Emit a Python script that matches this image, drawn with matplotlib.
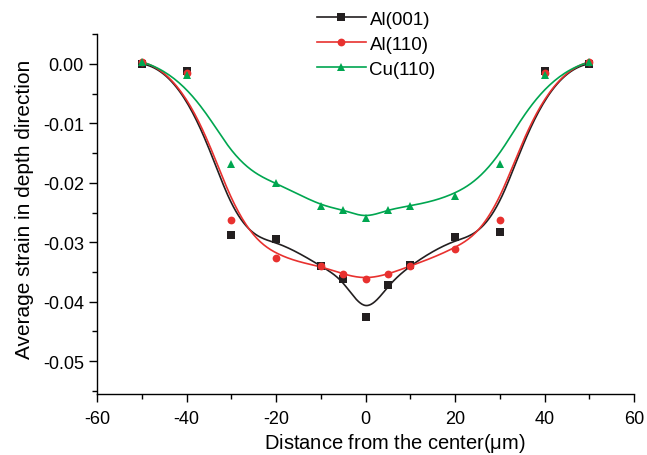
import numpy as np
import matplotlib
matplotlib.use("Agg")
import matplotlib.pyplot as plt
from matplotlib.ticker import MultipleLocator, FuncFormatter

plt.rcParams['font.family'] = ['Liberation Sans', 'DejaVu Sans']
plt.rcParams['mathtext.fontset'] = 'custom'
plt.rcParams['mathtext.rm'] = 'Liberation Sans'
plt.rcParams['axes.unicode_minus'] = False

# distance from the center (um)
x = [-50, -40, -30, -20, -10, -5, 0, 5, 10, 20, 30, 40, 50]
al001 = [0.0, -0.0012, -0.0288, -0.0295, -0.0340, -0.0362, -0.0426,
         -0.0372, -0.0338, -0.0292, -0.0283, -0.0012, 0.0]
al110 = [0.0003, -0.0015, -0.0262, -0.0326, -0.0340, -0.0354, -0.0362,
         -0.0354, -0.0340, -0.0312, -0.0262, -0.0015, 0.0003]
cu110 = [0.0003, -0.0018, -0.0169, -0.0200, -0.0239, -0.0245, -0.0260,
         -0.0245, -0.0239, -0.0223, -0.0169, -0.0018, 0.0003]


def bspline(px, py, n=400):
    # clamped cubic B-spline with the points as control points (Origin style)
    p = np.column_stack([px, py]).astype(float)
    m = len(p)
    k = 3
    inner = np.arange(1, m - k)
    knots = np.concatenate([[0] * (k + 1), inner, [m - k] * (k + 1)]).astype(float)
    t = np.linspace(0, m - k, n)
    t[-1] -= 1e-9
    # Cox-de Boor
    B = np.zeros((n, len(knots) - 1))
    for i in range(len(knots) - 1):
        B[:, i] = (t >= knots[i]) & (t < knots[i + 1])
    for d in range(1, k + 1):
        Bn = np.zeros((n, len(knots) - 1 - d))
        for i in range(len(knots) - 1 - d):
            a = knots[i + d] - knots[i]
            b = knots[i + d + 1] - knots[i + 1]
            term = 0
            if a > 0:
                term = term + (t - knots[i]) / a * B[:, i]
            if b > 0:
                term = term + (knots[i + d + 1] - t) / b * B[:, i + 1]
            Bn[:, i] = term
        B = Bn
    c = B @ p
    return c[:, 0], c[:, 1]


fig = plt.figure(figsize=(6.47, 4.56), dpi=100)
ax = fig.add_axes([0.150, 0.134, 0.830, 0.789])

series = [
    ('Al(001)', al001, '#231f20', 's', 5.3),
    ('Al(110)', al110, '#e8312f', 'o', 5.6),
    ('Cu(110)', cu110, '#00a650', '^', 6.2),
]

handles = []
for label, y, color, marker, ms in series:
    cx, cy = bspline(x, y)
    ax.plot(cx, cy, color=color, lw=1.2, zorder=2)
    ax.plot(x, y, linestyle='none', marker=marker, color=color, ms=ms,
            markeredgewidth=0, zorder=3)
    h, = ax.plot([], [], color=color, lw=1.2, marker=marker, ms=ms,
                 markeredgewidth=0, label=label)
    handles.append(h)

ax.set_xlim(-60, 60)
ax.set_ylim(-0.0555, 0.005)
ax.xaxis.set_major_locator(MultipleLocator(20))
ax.xaxis.set_minor_locator(MultipleLocator(10))
ax.yaxis.set_major_locator(MultipleLocator(0.01))
ax.yaxis.set_minor_locator(MultipleLocator(0.005))
ax.yaxis.set_major_formatter(FuncFormatter(
    lambda v, pos: '%.2f' % (0.0 if abs(v) < 1e-9 else v)))
ax.tick_params(which='major', direction='out', length=6, width=1,
               labelsize=13, pad=3.5)
ax.tick_params(axis='x', which='major', pad=5.5)
ax.tick_params(which='minor', direction='out', length=3.5, width=1)
for s in ['top', 'right']:
    ax.spines[s].set_visible(False)
for s in ['left', 'bottom']:
    ax.spines[s].set_linewidth(1)

ax.set_xlabel(r'Distance from the center($\mathrm{\mu}$m)', fontsize=14.5)
ax.set_ylabel('Average strain in depth direction', fontsize=15)
ax.xaxis.set_label_coords(0.555, -0.104)
ax.yaxis.set_label_coords(-0.118, 0.517)

fig.legend(handles=handles, loc='upper left', bbox_to_anchor=(317 / 647, 1 - 11.5 / 456),
           frameon=False, fontsize=13.5, handlelength=2.6, labelspacing=0.43,
           handletextpad=0.2, borderpad=0, borderaxespad=0)

fig.savefig('out.png', dpi=100)
